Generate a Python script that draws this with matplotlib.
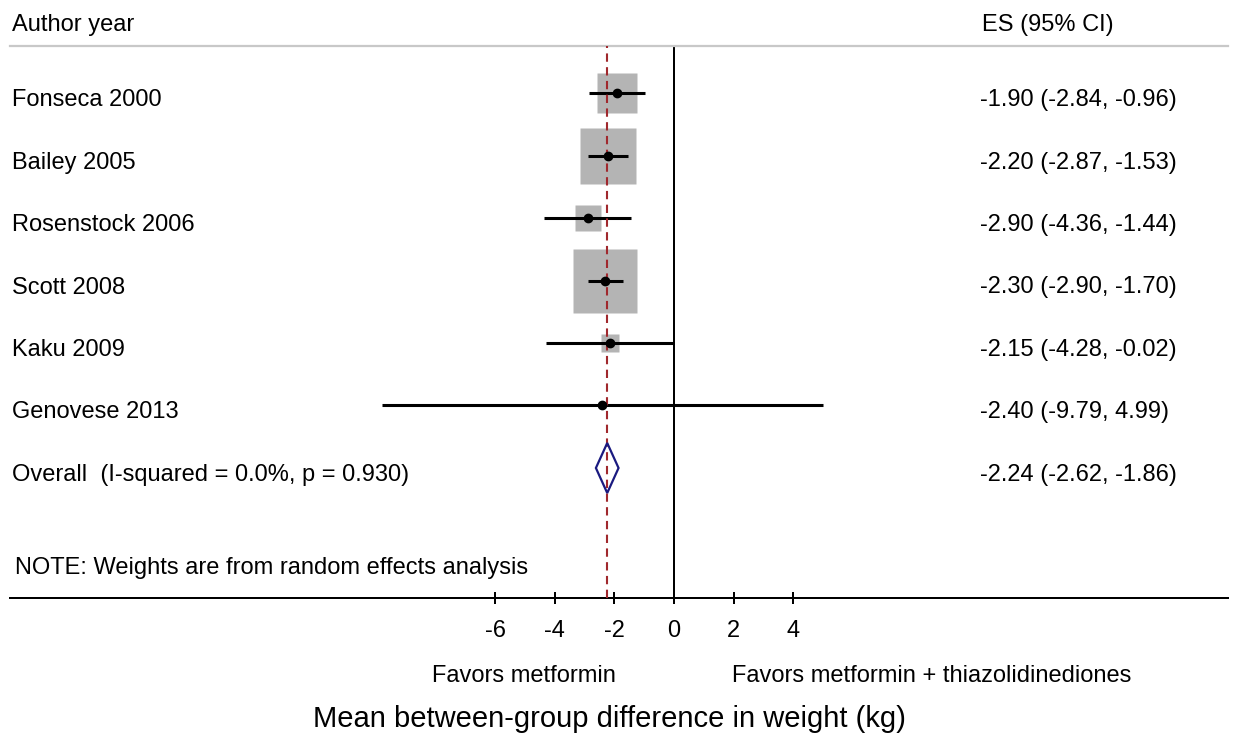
import matplotlib
matplotlib.use("Agg")
import matplotlib.pyplot as plt
import matplotlib.transforms as mtransforms
from matplotlib.patches import Polygon

plt.rcParams['font.family'] = ['Liberation Sans', 'DejaVu Sans']

# ---- data ----
studies = ["Fonseca 2000", "Bailey 2005", "Rosenstock 2006", "Scott 2008",
           "Kaku 2009", "Genovese 2013"]
es = [-1.90, -2.20, -2.90, -2.30, -2.15, -2.40]
lo = [-2.84, -2.87, -4.36, -2.90, -4.28, -9.79]
hi = [-0.96, -1.53, -1.44, -1.70, -0.02, 4.99]
weights = [16.5, 32.5, 6.9, 40.6, 3.2, 0.3]   # % (random effects)
overall_label = "Overall  (I-squared = 0.0%, p = 0.930)"
overall = [-2.24, -2.62, -1.86]
xticks = [-6, -4, -2, 0, 2, 4]
note = "NOTE: Weights are from random effects analysis"
xlabel = "Mean between-group difference in weight (kg)"
left_fav = "Favors metformin"
right_fav = "Favors metformin + thiazolidinediones"

W, H = 1233, 734
fig = plt.figure(figsize=(W / 100, H / 100), dpi=100)
ax = fig.add_axes([10 / W, (H - 598) / H, (1228 - 10) / W, (598 - 46) / H])

ax.set_xlim(-22.28, 18.59)
ax.set_ylim(-8.08, 0.752)

for s in ['left', 'right']:
    ax.spines[s].set_visible(False)
ax.spines['top'].set_color('#c8c8c8')
ax.spines['top'].set_linewidth(1.6)
ax.spines['bottom'].set_color('black')
ax.spines['bottom'].set_linewidth(1.44)
ax.set_yticks([])
ax.set_xticks(xticks)
ax.set_xticklabels([str(t) for t in xticks])
ax.tick_params(axis='x', direction='inout', length=9, width=1.44, pad=11,
               labelsize=17, color='black')

# reference lines
ax.axvline(0, color='black', lw=1.44, zorder=2)
ax.axvline(overall[0], color='#a0282d', lw=1.5, ls=(0, (4, 2.6)), zorder=4)

rows = [-i for i in range(len(studies))]
for y, e, l, h, w in zip(rows, es, lo, hi, weights):
    ax.plot([e], [y], marker='s', markersize=(w ** 0.5) * 7.13,
            color='#b4b4b4', mec='none', zorder=1)
    ax.plot([l, h], [y, y], color='black', lw=2.2, solid_capstyle='butt', zorder=3)
    ax.plot([e], [y], marker='o', markersize=6, color='black', zorder=5)

# overall diamond
oy = -len(studies)
dh = 0.4
diamond = Polygon([[overall[1], oy], [overall[0], oy + dh],
                   [overall[2], oy], [overall[0], oy - dh]],
                  closed=True, fill=False, edgecolor='#1a1a80', lw=1.6, zorder=5)
ax.add_patch(diamond)

# texts
off = mtransforms.ScaledTranslation(0, -7 / 100, fig.dpi_scale_trans)
tleft = mtransforms.blended_transform_factory(fig.transFigure, ax.transData) + off
fs = 17
ax.text(12 / W, (93 - 17.8) / 62.5, "Author year", transform=tleft, fontsize=fs,
        va='center', ha='left', clip_on=False)
ax.text(982 / W, (93 - 17.8) / 62.5, "ES (95% CI)", transform=tleft, fontsize=fs,
        va='center', ha='left', clip_on=False)

for y, name, e, l, h in zip(rows, studies, es, lo, hi):
    ax.text(12 / W, y, name, transform=tleft, fontsize=fs, va='center', ha='left')
    ax.text(980 / W, y, f"{e:.2f} ({l:.2f}, {h:.2f})", transform=tleft,
            fontsize=fs, va='center', ha='left')
ax.text(12 / W, oy, overall_label, transform=tleft, fontsize=fs, va='center', ha='left')
ax.text(980 / W, oy, f"{overall[0]:.2f} ({overall[1]:.2f}, {overall[2]:.2f})",
        transform=tleft, fontsize=fs, va='center', ha='left')
ax.text(15 / W, -(561 - 93) / 62.5, note, transform=tleft, fontsize=fs, va='center', ha='left')

tbot = mtransforms.blended_transform_factory(ax.transData, fig.transFigure)
ax.text(-1.95, 1 - 676.5 / H, left_fav, transform=tbot, fontsize=fs, ha='right', va='center', clip_on=False)
ax.text(1.95, 1 - 676.5 / H, right_fav, transform=tbot, fontsize=fs, ha='left', va='center', clip_on=False)
ax.text(-2.15, 1 - 719 / H, xlabel, transform=tbot, fontsize=21, ha='center', va='center', clip_on=False)

fig.savefig("out.png", dpi=100)
